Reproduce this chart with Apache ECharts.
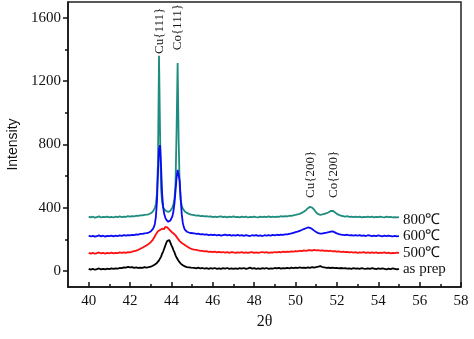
<!DOCTYPE html>
<html>
<head>
<meta charset="utf-8">
<script src="https://cdn.jsdelivr.net/npm/echarts@6/dist/echarts.min.js"></script>
<style>
  html, body { margin: 0; padding: 0; background: #fff; }
  #xrd { width: 474px; height: 339px; }
</style>
</head>
<body>
<div id="xrd"></div>
<script>
// 2θ sampling positions: 0.1° steps, 0.05° steps around the (111) peaks
var twoTheta = [];
for (var i = 400; i <= 427; i++) twoTheta.push(i / 10);
for (var j = 856; j <= 900; j++) twoTheta.push(j / 20);
for (var k = 451; k <= 550; k++) twoTheta.push(k / 10);

var names = ['800℃', '600℃', '500℃', 'as prep'];
var colors = ['#1e8c7e', '#0a0af5', '#ff1010', '#000000'];

var s800 = [
  345,340,344,338,342,346,339,343,341,345,340,343,339,344,341,346,342,345,343,347,344,348,346,350,349,353,352,356,
  357,360,359,364,366,371,376,386,400,425,490,690,1360,880,520,435,405,392,384,379,376,374,377,382,390,402,425,460,560,900,1315,820,540,450,412,395,385,377,372,368,365,362,360,357,356,
  354,351,352,348,349,346,347,344,346,342, 345,341,344,346,342,345,340,344,342,346,
  341,343,340,345,342,344,339,343,341,345, 342,340,344,341,345,342,346,341,344,342,
  345,343,347,344,348,346,350,349,353,355, 358,362,368,375,385,398,406,402,388,370,
  360,356,358,362,366,372,380,381,372,362, 355,350,348,345,347,343,345,341,344,342,
  345,340,343,341,345,342,344,340,343,341, 345,342,340,344,341,343,339,342,340,342
];
var s600 = [
  224,219,223,218,222,226,220,224,218,223,221,225,220,224,222,226,223,227,224,228,226,229,228,232,231,235,236,239,
  240,243,244,248,251,257,265,278,298,345,440,620,770,795,660,490,405,362,340,326,317,312,314,320,331,348,380,432,510,590,640,650,570,450,360,305,278,262,254,249,246,244,243,241,240,
  238,236,237,233,234,231,232,228,231,227, 230,226,229,225,228,231,226,229,224,228,
  225,229,224,227,223,228,225,222,227,224, 228,223,226,222,227,224,228,225,229,226,
  230,227,231,229,233,232,236,238,242,246, 250,255,260,266,271,276,274,266,256,247,
  240,237,238,241,243,246,250,251,245,238, 234,231,229,227,230,226,228,224,227,225,
  228,223,226,222,227,224,221,225,222,226, 223,220,224,221,225,222,219,223,220,222
];
var s500 = [
  116,111,115,110,114,118,112,116,111,115,113,117,112,116,114,118,115,119,116,120,118,123,126,130,135,142,148,156,
  163,168,172,178,183,191,198,210,220,233,240,252,246,260,258,268,272,266,280,287,276,270,262,256,249,246,238,235,226,216,207,198,190,184,178,174,170,166,160,155,152,147,145,141,139,
  136,134,131,129,128,125,126,122,124,121, 123,119,122,118,121,117,120,116,121,118,
  115,119,117,120,116,119,115,118,120,116, 119,115,118,121,117,120,116,119,117,121,
  118,122,119,123,120,124,122,125,123,127, 125,129,127,131,128,132,133,130,134,131,
  133,129,132,128,130,126,129,125,127,123, 125,121,124,120,122,118,121,117,120,116,
  119,117,120,116,118,115,119,116,118,114, 117,115,118,114,117,113,116,114,117,115
];
var sPrep = [
  15,10,14,9,13,17,11,15,12,16,13,17,14,18,16,20,19,24,22,27,24,26,21,24,20,23,21,25,
  23,27,25,30,28,33,34,39,42,46,52,58,68,80,92,110,124,142,160,178,192,201,196,180,163,150,132,118,100,86,74,64,55,48,42,37,33,30,29,26,27,24,25,22,23,
  21,18,22,17,20,16,19,15,19,16, 20,15,18,14,19,16,20,15,18,14,
  18,15,19,16,20,15,18,22,16,19, 15,18,14,19,16,20,15,18,16,20,
  17,21,16,19,17,21,18,22,19,23, 20,24,21,23,20,24,21,25,22,26,
  28,32,26,24,21,23,20,22,19,21, 18,20,17,19,16,18,15,19,16,18,
  15,19,16,14,18,15,19,16,13,17, 14,18,15,12,16,13,17,14,11,15
];

var peakLabels = ['Cu{111}', 'Co{111}', 'Cu{200}', 'Co{200}'];
var peakAt = [[43.42, 1372], [44.30, 1395], [50.72, 462], [51.85, 462]];

var xTicks = [40, 42, 44, 46, 48, 50, 52, 54, 56, 58];
var xMinor = [41, 43, 45, 47, 49, 51, 53, 55, 57];
var yTicks = [0, 400, 800, 1200, 1600];
var yMinor = [200, 600, 1000, 1400];

var serif = 'Liberation Serif';
var myChart = echarts.init(document.getElementById('xrd'));

function pairs(vals) {
  return vals.map(function (v, n) { return [twoTheta[n], v]; });
}
var allSeries = [s800, s600, s500, sPrep];

var series = allSeries.map(function (vals, n) {
  return {
    name: names[n],
    type: 'line',
    data: pairs(vals),
    symbol: 'none',
    lineStyle: { color: colors[n], width: 1.8 },
    itemStyle: { color: colors[n] },
    endLabel: {
      show: true, formatter: '{a}', distance: 4,
      offset: n === 0 ? [0, 3] : [0, 0],
      color: '#111', fontFamily: serif, fontSize: 15
    }
  };
});
series[0].markPoint = {
  symbol: 'circle', symbolSize: 0,
  label: {
    show: true, rotate: 90, align: 'left', verticalAlign: 'middle',
    color: '#111', fontFamily: serif, fontSize: 13,
    formatter: function (p) { return p.name; }
  },
  data: peakLabels.map(function (t, n) { return { name: t, coord: peakAt[n] }; })
};

option = {
  animation: false,
  grid: {
    left: 68, right: 13, top: 2, bottom: 52, outerBoundsMode: 'none',
    show: true, borderColor: '#222', borderWidth: 1.5
  },
  xAxis: [
    {
      type: 'value', min: 39, max: 58,
      name: '2θ', nameLocation: 'middle', nameGap: 22,
      nameTextStyle: { fontFamily: serif, fontSize: 16, color: '#111' },
      axisLine: { onZero: false, lineStyle: { color: '#111', width: 1.5 } },
      axisTick: { inside: true, length: 5, customValues: xTicks, lineStyle: { color: '#111', width: 1.5 } },
      axisLabel: { customValues: xTicks, margin: 7, fontFamily: serif, fontSize: 15, color: '#111' },
      splitLine: { show: false }
    },
    {
      type: 'value', min: 39, max: 58, position: 'bottom',
      axisLine: { show: false, onZero: false },
      axisTick: { inside: true, length: 3, customValues: xMinor, lineStyle: { color: '#111', width: 1.5 } },
      axisLabel: { show: false },
      splitLine: { show: false }
    }
  ],
  yAxis: [
    {
      type: 'value', min: -100, max: 1700,
      name: 'Intensity', nameLocation: 'middle', nameGap: 46,
      nameTextStyle: { fontFamily: 'Liberation Sans', fontSize: 14, color: '#111' },
      axisLine: { show: true, onZero: false, lineStyle: { color: '#111', width: 1.5 } },
      axisTick: { show: true, length: 5, customValues: yTicks, lineStyle: { color: '#111', width: 1.5 } },
      axisLabel: {
        customValues: yTicks, margin: 7, fontFamily: serif, fontSize: 15, color: '#111',
        formatter: function (v) { return String(v); }
      },
      splitLine: { show: false }
    },
    {
      type: 'value', min: -100, max: 1700, position: 'left',
      axisLine: { show: false, onZero: false },
      axisTick: { show: true, length: 3, customValues: yMinor, lineStyle: { color: '#111', width: 1.5 } },
      axisLabel: { show: false },
      splitLine: { show: false }
    }
  ],
  series: series
};
myChart.setOption(option);
</script>
</body>
</html>
